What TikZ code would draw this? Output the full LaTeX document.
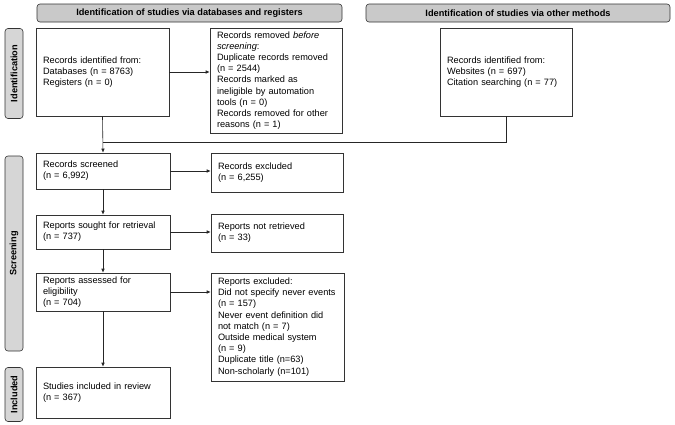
\documentclass[tikz,border=0pt]{standalone}
\usepackage{fontspec}
\setmainfont{Liberation Sans}
\usetikzlibrary{arrows.meta}
\begin{document}
\begin{tikzpicture}[x=1pt,y=-1pt,
  box/.style={draw=black!80, line width=0.6pt, fill=white, inner xsep=7pt, inner ysep=0pt, minimum width=#1, text width=#1-14pt, align=left, font=\fontsize{9.2}{11.2}\selectfont},
  box/.default=133pt,
  head/.style={draw=black!80, line width=0.6pt, fill=black!21, rounded corners=3pt, minimum height=18pt, font=\bfseries\fontsize{9.2}{10}\selectfont, inner sep=0pt},
  side/.style={draw=black!80, line width=0.6pt, fill=black!16, rounded corners=3pt, minimum height=18pt, rotate=90, font=\bfseries\fontsize{9.2}{10}\selectfont, inner sep=0pt},
  arr/.style={-{Latex[length=4pt,width=3.5pt]}, line width=0.6pt, draw=black!85},
  ln/.style={line width=0.6pt, draw=black!85}
]
\useasboundingbox (0,0) rectangle (675,424);
\fill[white] (0,0) rectangle (675,424);

\node[head, minimum width=305pt] (h1) at (189.5,13) {Identification of studies via databases and registers};
\node[head, minimum width=304pt] (h2) at (518,13) {Identification of studies via other methods};

\node[side, minimum width=90pt] (s1) at (14,73.5) {Identification};
\node[side, minimum width=195pt] (s2) at (14,253.5) {Screening};
\node[side, minimum width=54pt] (s3) at (14,394.5) {Included};

\node[box, minimum height=88pt] (A) at (102.5,72) {Records identified from:\\Databases (n = 8763)\\Registers (n = 0)};
\node[box=132pt, minimum height=105pt] (B) at (276,80.5) {Records removed \textit{before}\\\textit{screening}:\\Duplicate records removed\\(n = 2544)\\Records marked as\\ineligible by automation\\tools (n = 0)\\Records removed for other\\reasons (n = 1)};
\node[box=132pt, minimum height=88pt] (C) at (506,72) {Records identified from:\\Websites (n = 697)\\Citation searching (n = 77)};

\node[box=134pt, minimum height=36pt] (D) at (103,171) {Records screened\\(n = 6,992)};
\node[box=132pt, minimum height=39pt] (E) at (277,172.5) {Records excluded\\(n = 6,255)};
\node[box=134pt, minimum height=34pt] (F) at (103,232) {Reports sought for retrieval\\(n = 737)};
\node[box=132pt, minimum height=38pt] (G) at (277,233) {Reports not retrieved\\(n = 33)};
\node[box=134pt, minimum height=38pt] (H) at (103,292) {Reports assessed for\\eligibility\\(n = 704)};
\node[box=133pt, minimum height=108pt] (I) at (277.5,327) {Reports excluded:\\Did not specify never events\\(n = 157)\\Never event definition did\\not match (n = 7)\\Outside medical system\\(n = 9)\\Duplicate title (n=63)\\Non-scholarly (n=101)};
\node[box=134pt, minimum height=51pt] (J) at (103,392.5) {Studies included in review\\(n = 367)};

\coordinate (m) at (102.5,142);
\draw[arr] (A.east) -- (A.east -| B.west);
\draw[ln] (C.south) |- (m);
\draw[arr] (A.south) -- (D.north);
\draw[arr] (D.east) -- (D.east -| E.west);
\draw[arr] (D.south) -- (F.north);
\draw[arr] (F.east) -- (F.east -| G.west);
\draw[arr] (F.south) -- (H.north);
\draw[arr] (H.east) -- (H.east -| I.west);
\draw[arr] (H.south) -- (J.north);
\end{tikzpicture}
\end{document}
